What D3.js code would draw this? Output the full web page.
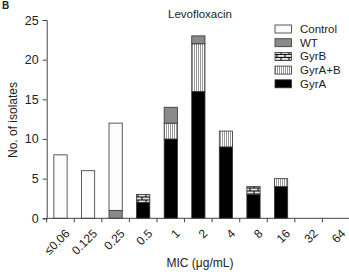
<!DOCTYPE html>
<html><head><meta charset="utf-8">
<script src="https://cdn.jsdelivr.net/npm/d3@7"></script>
<style>body{margin:0;background:#fff}svg{display:block;font-family:Arial,"Liberation Sans",sans-serif}</style>
</head><body><svg id="c" width="349" height="272"></svg>
<script>
const categories = ["≤0.06","0.125","0.25","0.5","1","2","4","8","16","32","64"];
const gyrA   = [0,0,0,2,10,16,9,3,4,0,0];
const gyrB   = [0,0,0,1,0,0,0,1,0,0,0];
const gyrAB  = [0,0,0,0,2,6,2,0,1,0,0];
const wt     = [0,0,1,0,2,1,0,0,0,0,0];
const control= [8,6,11,0,0,0,0,0,0,0,0];
const seriesNames = ["GyrA","GyrB","GyrA+B","WT","Control"];
const seriesVals = [gyrA,gyrB,gyrAB,wt,control];
const legendOrder = ["Control","WT","GyrB","GyrA+B","GyrA"];
const yTicks = [0,5,10,15,20,25];

const svg = d3.select("#c");
const defs = svg.append("defs");
const pb = defs.append("pattern").attr("id","brick").attr("patternUnits","userSpaceOnUse").attr("width",8).attr("height",6).attr("y",0.5);
pb.append("rect").attr("width",8).attr("height",6).attr("fill","#fff");
pb.append("line").attr("x1",0).attr("x2",8).attr("y1",1.5).attr("y2",1.5).attr("stroke","#000").attr("stroke-width",1.2);
pb.append("line").attr("x1",0).attr("x2",8).attr("y1",4.5).attr("y2",4.5).attr("stroke","#000").attr("stroke-width",1.2);
pb.append("line").attr("x1",2).attr("x2",2).attr("y1",1.5).attr("y2",4.5).attr("stroke","#000").attr("stroke-width",1);
pb.append("line").attr("x1",6).attr("x2",6).attr("y1",4.5).attr("y2",7.5).attr("stroke","#000").attr("stroke-width",1);
pb.append("line").attr("x1",6).attr("x2",6).attr("y1",-1.5).attr("y2",1.5).attr("stroke","#000").attr("stroke-width",1);
const ps = defs.append("pattern").attr("id","stripe").attr("patternUnits","userSpaceOnUse").attr("width",2).attr("height",4);
ps.append("rect").attr("width",2).attr("height",4).attr("fill","#fff");
ps.append("rect").attr("width",1).attr("height",4).attr("fill","#999");

const fills = {"GyrA":"#000","GyrB":"url(#brick)","GyrA+B":"url(#stripe)","WT":"#8a8a8a","Control":"#fcfcfc"};

const x = d3.scaleBand().domain(categories).range([46.7,350]).paddingInner(0.52).paddingOuter(0.26);
const y = d3.scaleLinear().domain([0,25]).range([218.3,20]);

const data = categories.map((c,i)=>{const o={cat:c}; seriesNames.forEach((s,j)=>o[s]=seriesVals[j][i]); return o;});
const stack = d3.stack().keys(seriesNames)(data);

svg.append("g").selectAll("g").data(stack).join("g")
  .attr("fill",d=>fills[d.key])
  .selectAll("rect").data(d=>d.filter(p=>p[1]>p[0])).join("rect")
  .attr("x",d=>x(d.data.cat)).attr("width",x.bandwidth())
  .attr("y",d=>y(d[1])).attr("height",d=>y(d[0])-y(d[1]))
  .attr("stroke","#333").attr("stroke-width",0.8);

// y axis
const ya = svg.append("g").attr("transform","translate(46.7,0)")
  .call(d3.axisLeft(y).tickValues(yTicks).tickSize(4).tickPadding(4));
ya.select(".domain").attr("stroke","#444");
ya.selectAll("line").attr("stroke","#444");
ya.selectAll("text").attr("font-size",12.5).attr("fill","#222").attr("font-family","Arial,'Liberation Sans',sans-serif");

// x axis with ticks at band boundaries
const xa = svg.append("g").attr("transform","translate(0,218.3)");
const step = x.step();
const bounds = d3.range(categories.length+1).map(i=>46.7+i*step);
xa.append("line").attr("x1",46.7).attr("x2",350).attr("y1",0).attr("y2",0).attr("stroke","#444");
xa.selectAll("line.t").data(bounds).join("line").attr("class","t")
  .attr("x1",d=>d).attr("x2",d=>d).attr("y1",0).attr("y2",4).attr("stroke","#444");
xa.selectAll("text").data(categories).join("text")
  .attr("text-anchor","end")
  .attr("transform",d=>`translate(${x(d)+x.bandwidth()/2+4},${10}) rotate(-45)`)
  .attr("dy","0.7em")
  .attr("font-size",12).attr("fill","#222").text(d=>d);

// labels
svg.append("text").attr("x",200).attr("y",18).attr("text-anchor","middle").attr("font-size",11.5).attr("fill","#222").text("Levofloxacin");
svg.append("text").attr("transform","translate(17,120) rotate(-90)").attr("text-anchor","middle").attr("font-size",12).attr("fill","#222").text("No. of isolates");
svg.append("text").attr("x",200).attr("y",267).attr("text-anchor","middle").attr("font-size",12).attr("fill","#222").text("MIC (μg/mL)");
svg.append("text").attr("x",2).attr("y",9).attr("font-size",10).attr("font-weight","bold").attr("fill","#222").text("B");

// legend
const lg = svg.append("g").selectAll("g").data(legendOrder).join("g")
  .attr("transform",(d,i)=>`translate(275,${25+i*13.7})`);
lg.append("rect").attr("width",16.5).attr("height",8).attr("fill",d=>fills[d]).attr("stroke","#333").attr("stroke-width",0.8);
lg.append("text").attr("x",25).attr("y",4).attr("dy","0.35em").attr("font-size",11.5).attr("fill","#222").text(d=>d);
</script></body></html>
